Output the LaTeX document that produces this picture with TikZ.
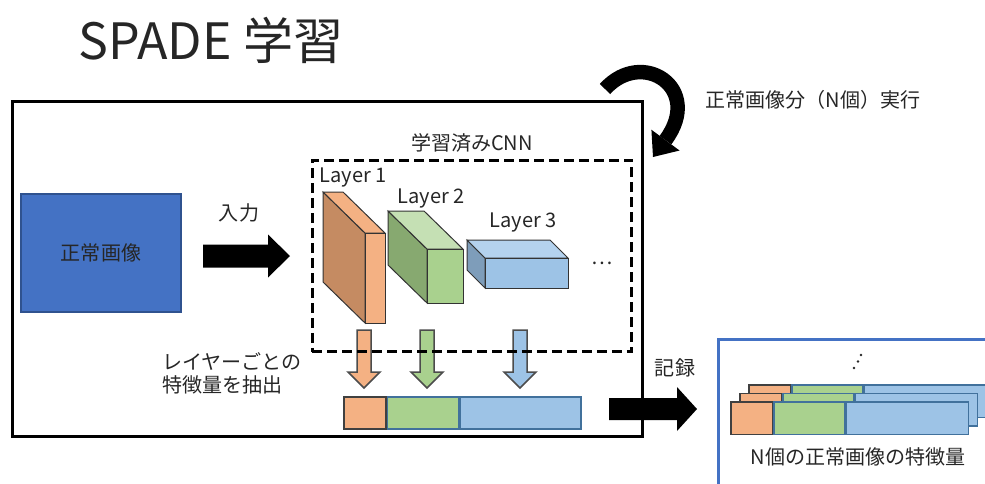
\documentclass[tikz,border=0pt]{standalone}
\usepackage{fontspec}
\setmainfont{Noto Sans CJK JP}
\usepackage{tikz}
\usetikzlibrary{calc,arrows.meta,positioning}

\definecolor{imgblue}{HTML}{4472C4}
\definecolor{imgedge}{HTML}{2F528F}
\definecolor{lorange}{HTML}{F4B183}
\definecolor{dorange}{HTML}{C58B62}
\definecolor{lgreen}{HTML}{A9D18E}
\definecolor{dgreen}{HTML}{87A970}
\definecolor{tgreen}{HTML}{C5E0B4}
\definecolor{lblue}{HTML}{9DC3E6}
\definecolor{dblue}{HTML}{7E9DBA}
\definecolor{tblue}{HTML}{B4D2EE}
\definecolor{edgeblue}{HTML}{41719C}

\newcommand{\lblsize}{\fontsize{11.4pt}{13.1pt}\selectfont}
\newcommand{\ttlsize}{\fontsize{28.5pt}{34pt}\selectfont}

\begin{document}
\begin{tikzpicture}[x=0.02cm,y=-0.02cm]
	\tikzstyle{every node}+=[inner sep=0pt, font=\lblsize, text=black!85]
	\tikzstyle{seg}=[line width=0.03cm]
	\tikzstyle{face}=[draw=black!80, line width=0.02cm]
	\tikzstyle{feedarrow}=[draw=black!70, line width=0.03cm]
	\useasboundingbox (0,0) rectangle (985,484);
	\clip (0,0) rectangle (985,484);
	% title
	\node[font=\ttlsize] (title) at (211,40) {SPADE 学習};
	% outer frame and input image
	\node[draw, line width=0.06cm, minimum width=12.62cm, minimum height=6.72cm] (frame) at (327.5,269) {};
	\node[fill=imgblue, draw=imgedge, line width=0.03cm, minimum width=3.2cm, minimum height=2.36cm] (img) at (101,253) {正常画像};
	\node (inlbl) at (239,213) {入力};
	\coordinate (in0) at (203,256);
	\coordinate (in1) at (290,256);
	\fill ($(in0)+(0,-11.5)$) -- ($(in1)+(-22,-11.5)$) -- ($(in1)+(-22,-21.5)$) -- (in1) -- ($(in1)+(-22,21.5)$) -- ($(in1)+(-22,11.5)$) -- ($(in0)+(0,11.5)$) -- cycle;
	% layers of the CNN
	\coordinate (l1) at (365,233);
	\filldraw[face, fill=dorange] (l1) -- ++(-42,-41) -- ++(0,90) -- ++(42,41) -- cycle;
	\filldraw[face, fill=lorange] (l1) -- ++(-42,-41) -- ++(20,0) -- ++(42,41) -- cycle;
	\filldraw[face, fill=lorange] (l1) rectangle ++(20,90);
	\coordinate (l2) at (427,249);
	\filldraw[face, fill=dgreen] (l2) -- ++(-39,-38) -- ++(0,54) -- ++(39,38) -- cycle;
	\filldraw[face, fill=tgreen] (l2) -- ++(-39,-38) -- ++(36,0) -- ++(39,38) -- cycle;
	\filldraw[face, fill=lgreen] (l2) rectangle ++(36,54);
	\coordinate (l3) at (485,258);
	\filldraw[face, fill=dblue] (l3) -- ++(-18,-18) -- ++(0,30) -- ++(18,18) -- cycle;
	\filldraw[face, fill=tblue] (l3) -- ++(-18,-18) -- ++(83,0) -- ++(18,18) -- cycle;
	\filldraw[face, fill=lblue] (l3) rectangle ++(83,30);
	\node (lab1) at (353,177) {Layer 1};
	\node (lab2) at (431,198) {Layer 2};
	\node (lab3) at (523,222) {Layer 3};
	\node (more) at (602,263) {…};
	% features of each layer
	\node[seg, fill=lorange, draw=black!75, minimum width=0.84cm, minimum height=0.64cm] (f1) at (365,413) {};
	\node[seg, fill=lgreen, draw=edgeblue, minimum width=1.42cm, minimum height=0.64cm, anchor=west] (f2) at (f1.east) {};
	\node[seg, fill=lblue, draw=edgeblue, minimum width=2.42cm, minimum height=0.64cm, anchor=west] (f3) at (f2.east) {};
	\foreach \i/\x/\col in {1/364/lorange,2/427/lgreen,3/520/lblue} {
		\coordinate (d\i) at (\x,330);
		\coordinate (e\i) at (\x,388);
		\filldraw[feedarrow, fill=\col] ($(d\i)+(-7,0)$) -- ($(e\i)+(-7,-16)$) -- ($(e\i)+(-16,-16)$) -- (e\i) -- ($(e\i)+(16,-16)$) -- ($(e\i)+(7,-16)$) -- ($(d\i)+(7,0)$) -- cycle;
	}
	\node[draw, dashed, line width=0.06cm, dash pattern=on 0.2cm off 0.1cm, minimum width=6.4cm, minimum height=3.84cm] (cnn) at (472,256) {};
	\node (cnnlbl) at (472,143) {学習済みCNN};
	\node[anchor=west, align=left] (extlbl) at (162,373.5) {レイヤーごとの\\特徴量を抽出};
	% record
	\node (reclbl) at (675,368) {記録};
	\coordinate (r0) at (609,409);
	\coordinate (r1) at (697,409);
	\fill ($(r0)+(0,-11)$) -- ($(r1)+(-20,-11)$) -- ($(r1)+(-20,-22)$) -- (r1) -- ($(r1)+(-20,22)$) -- ($(r1)+(-20,11)$) -- ($(r0)+(0,11)$) -- cycle;
	\node[draw=imgblue, line width=0.05cm, minimum width=5.66cm, minimum height=3.24cm, anchor=north west] (store) at (717,338) {};
	\foreach \k in {2,1,0} {
		\node[seg, fill=lorange, draw=black!75, minimum width=0.84cm, minimum height=0.66cm, anchor=north west] (o\k) at (730+9*\k,401-8.5*\k) {};
		\node[seg, fill=lgreen, draw=edgeblue, minimum width=1.42cm, minimum height=0.66cm, anchor=west] (g\k) at (o\k.east) {};
		\node[seg, fill=lblue, draw=edgeblue, minimum width=2.44cm, minimum height=0.66cm, anchor=west] (b\k) at (g\k.east) {};
	}
	\foreach \p in {(854,368),(858,361.5),(861,355)}
		\fill[black!85] \p circle (1.4);
	\node (storelbl) at (858,457) {N個の正常画像の特徴量};
	% repeat for every image
	\coordinate (loop0) at (605,89);
	\coordinate (loop1) at (653,157);
	\draw[line width=0.29cm, -{Triangle[length=0.42cm, width=0.7cm, line width=0pt]}] (loop0) .. controls (642,48) and (704,88) .. (loop1);
	\node[anchor=west] (looplbl) at (705,100) {正常画像分（N個）実行};
\end{tikzpicture}
\end{document}
